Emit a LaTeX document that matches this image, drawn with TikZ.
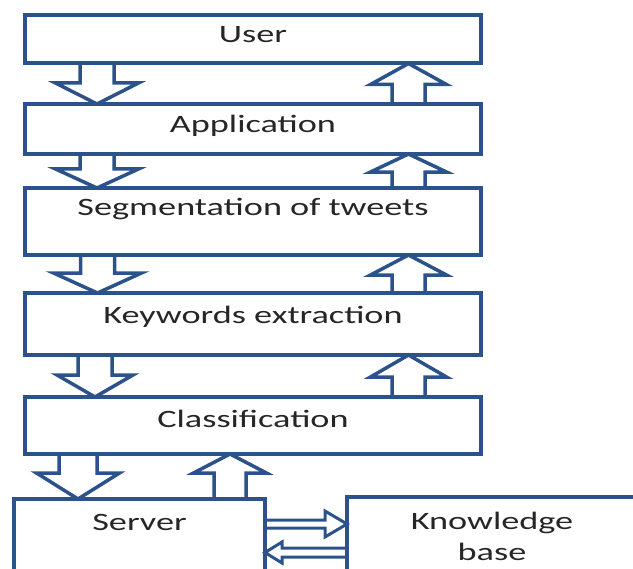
\documentclass[tikz,border=0pt]{standalone}
\usepackage{fontspec}
\setmainfont{Carlito}[FakeStretch=1.45]
\usepackage{tikz}
\usetikzlibrary{calc}
\definecolor{boxblue}{RGB}{44,82,140}

\begin{document}
\begin{tikzpicture}[y=1bp,x=1bp,line width=4bp,line join=miter,
  box/.style={draw=boxblue,rectangle,inner sep=0pt,outer sep=0pt,anchor=north,
    minimum width=456bp,text=black!85,font=\fontsize{25bp}{31bp}\selectfont},
  blk/.style={draw=boxblue,line width=3.5bp},
  hblk/.style={draw=boxblue,line width=3bp}]
\useasboundingbox (0,0) rectangle (633,-569);

\node[box,text height=27.5bp,text depth=20.5bp] (user) at (253,-15.5) {User};
\node[box,text height=29bp,text depth=21bp] (app) at (253,-104) {Application};
\node[box,text height=27bp,text depth=40bp] (seg) at (253,-188) {Segmentation of tweets};
\node[box,text height=30bp,text depth=32bp] (key) at (253,-293) {Keywords extraction};
\node[box,text height=30bp,text depth=27bp] (class) at (253,-397) {Classification};
\node[box,minimum width=251bp,text height=31bp,text depth=100bp] (server) at (139.5,-499) {Server};
\node[box,minimum width=290bp,align=center,text height=63bp,text depth=50bp] (know) at (492,-497) {Knowledge\\base};

%%%%%%%%%%%%%%%% DOWN %%%%%%%%%%%%%%%%
\foreach \src/\dst/\xc/\sw/\hw/\hl in {
    user/app/97/17/41.5/21,
    app/seg/97/17/41.5/19,
    seg/key/97.5/17/44/20,
    key/class/95/17/38/22,
    class/server/78/19/41.5/26}
  \draw[blk] (\xc-\sw,0 |- \src.south) |- ($(\xc-\hw,0 |- \dst.north)+(0,\hl)$)
    -- (\xc,0 |- \dst.north) -- ($(\xc+\hw,0 |- \dst.north)+(0,\hl)$) -| (\xc+\sw,0 |- \src.south);

%%%%%%%%%%%%%%%% UP %%%%%%%%%%%%%%%%
\foreach \src/\dst/\xc/\sw/\hw/\hl in {
    app/user/408.5/16.5/38/21,
    seg/app/408.5/16.5/38/18,
    key/seg/408.5/16.5/38/20,
    class/key/408.5/16.5/38/22,
    server/class/230/16/36.5/19}
  \draw[blk] (\xc-\sw,0 |- \src.north) |- ($(\xc-\hw,0 |- \dst.south)+(0,-\hl)$)
    -- (\xc,0 |- \dst.south) -- ($(\xc+\hw,0 |- \dst.south)+(0,-\hl)$) -| (\xc+\sw,0 |- \src.north);

% server <-> knowledge base
\draw[hblk] (server.east |- 0,-520) -| ($(know.west |- 0,-511)+(-22,0)$) -- (know.west |- 0,-524)
  -- ($(know.west |- 0,-537)+(-22,0)$) |- (server.east |- 0,-528);
\draw[hblk] (know.west |- 0,-548) -| ($(server.east |- 0,-542)+(17,0)$) -- (server.east |- 0,-552.5)
  -- ($(server.east |- 0,-563)+(17,0)$) |- (know.west |- 0,-557);

\end{tikzpicture}
\end{document}
